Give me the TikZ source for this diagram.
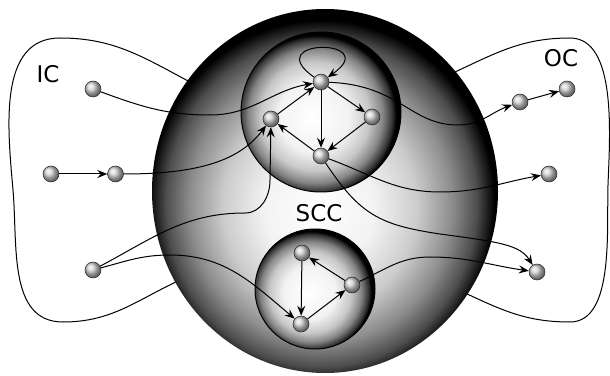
\documentclass[tikz,border=0pt]{standalone}
\usepackage{fontspec}
\setmainfont{DejaVu Sans}
\usetikzlibrary{arrows.meta,shapes.geometric,positioning}
\pgfdeclareradialshading{outersph}{\pgfpoint{-1bp}{-3bp}}{color(0bp)=(white); color(8bp)=(black!5); color(14bp)=(black!20); color(19bp)=(black!45); color(22.5bp)=(black!70); color(25bp)=(black); color(50bp)=(black)}
\pgfdeclareradialshading{innersph}{\pgfpoint{-3bp}{-2bp}}{color(0bp)=(white); color(11bp)=(black!5); color(17bp)=(black!22); color(21bp)=(black!48); color(23.8bp)=(black!80); color(25bp)=(black); color(50bp)=(black)}
\tikzset{
ball/.style = {draw=black!85, line width=0.5pt, circle, ball color=gray!35, inner sep=0pt, minimum size=16pt},
bigsphere/.style = {shade, shading=outersph, ellipse, inner sep=0pt, minimum width=346pt, minimum height=364pt},
sccsphere/.style = {draw, line width=1pt, shade, shading=innersph, circle, inner sep=0pt},
lbl/.style = {font=\fontsize{23}{23}\selectfont, inner sep=0pt}
}

\begin{document}
\begin{tikzpicture}[x=1pt, y=1pt, line width=1pt, >={Stealth[length=10pt,width=8pt,inset=3.5pt]}]
  \useasboundingbox (0,0) rectangle (610,375);

  % in- and out-component outlines
  \draw (190,293) to[out=152,in=0] (60,337) to[out=180,in=95] (13,185)
        to[out=-85,in=180] (63,53) to[out=0,in=-155] (180,95);
  \draw (455,303) to[out=25,in=180] (570,337) to[out=0,in=88,looseness=0.8] (608,190)
        to[out=-92,in=0,looseness=0.8] (570,53) to[out=180,in=-25] (465,82);

  \node [bigsphere]                       (wcc)    at (325,184) {};
  \node [sccsphere, minimum size=160pt]   (sccup)  at (321,263) {};
  \node [sccsphere, minimum size=120pt]   (scclow) at (315,86)  {};

  \node [lbl] (iclbl)  at (48,301)  {IC};
  \node [lbl] (oclbl)  at (561,317) {OC};
  \node [lbl] (scclbl) at (319,162) {SCC};

  \node [ball]                 (a1) at (93,286)  {};
  \node [ball]                 (a2) at (51,201)  {};
  \node [ball, right=48pt of a2] (a3)            {};
  \node [ball]                 (a4) at (93,105)  {};

  \node [ball] (t) at (321,293) {};
  \node [ball] (l) at (271,256) {};
  \node [ball] (r) at (372,258) {};
  \node [ball] (b) at (321,219) {};

  \node [ball] (p) at (302,122) {};
  \node [ball] (q) at (352,90)  {};
  \node [ball] (s) at (301,51)  {};

  \node [ball] (o1) at (520,273) {};
  \node [ball] (o2) at (567,286) {};
  \node [ball] (o3) at (549,201) {};
  \node [ball] (o4) at (537,103) {};

  \draw [->] (a2) -- (a3);
  \draw [->] (a1) to[out=-20,in=180] (210,260) to[out=0,in=190] (t);
  \draw [->] (a3) .. controls (200,201) and (240,215) .. (l);
  \draw [->] (a4) to[out=28,in=180] (245,162) to[out=0,in=-90] (270,195) -- (l);
  \draw [->] (a4) to[out=15,in=180] (170,120) to[out=0,in=140] (s);

  \draw [->] (t) to[out=145,in=35,looseness=13] (t);
  \draw [->] (l) -- (t);
  \draw [->] (t) -- (r);
  \draw [->] (t) -- (b);
  \draw [->] (r) -- (b);
  \draw [->] (b) -- (l);

  \draw [->] (p) -- (s);
  \draw [->] (s) -- (q);
  \draw [->] (q) -- (p);

  \draw [->] (t) .. controls (400,290) and (410,250) .. (458,250) to[out=0,in=200] (o1);
  \draw [->] (o1) -- (o2);
  \draw [->] (b) to[out=-20,in=180] (440,183) to[out=0,in=190] (o3);
  \draw [->] (b) .. controls (360,160) and (380,150) .. (440,141)
             .. controls (500,133) and (520,130) .. (o4);
  \draw [->] (q) to[out=25,in=180] (430,118) to[out=0,in=172] (o4);
\end{tikzpicture}
\end{document}
